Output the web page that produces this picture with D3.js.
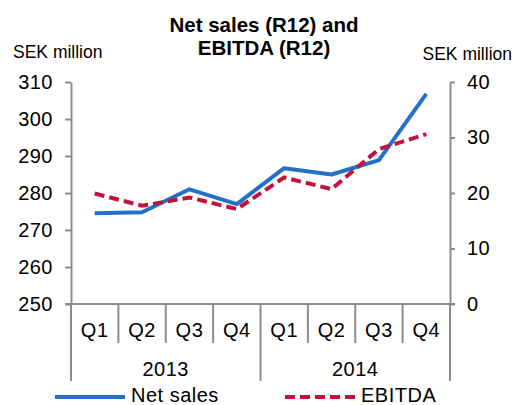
<!DOCTYPE html>
<html>
<head>
<meta charset="utf-8">
<script src="https://cdn.jsdelivr.net/npm/d3@7"></script>
<style>
  body { margin: 0; background: #fff; }
  svg text { font-family: "Liberation Sans", Arial, sans-serif; fill: #000; }
  .lbl { font-size: 20px; letter-spacing: 0.5px; }
</style>
</head>
<body>
<div id="chart"></div>
<script>
var years = ["2013", "2014"];
var quarters = ["Q1", "Q2", "Q3", "Q4"];
var netSales = [274.5, 274.8, 281.0, 277.0, 286.7, 285.0, 288.9, 306.8];
var ebitda = [19.9, 17.7, 19.2, 17.1, 22.8, 20.7, 27.9, 30.6];
var leftTicks = [250, 260, 270, 280, 290, 300, 310];
var rightTicks = [0, 10, 20, 30, 40];

var width = 515,
    height = 405,
    margin = {top: 82, right: 65, bottom: 101, left: 71},
    axisColor = "#8c8c8c";

var innerW = width - margin.left - margin.right,
    innerH = height - margin.top - margin.bottom;

// one key per period, labels repeat so keep them unique
var periods = [];
years.forEach(y => quarters.forEach(q => periods.push({year: y, q: q, key: y + " " + q})));

var svg = d3.select("#chart").append("svg")
    .attr("width", width)
    .attr("height", height);

var g = svg.append("g")
    .attr("transform", `translate(${margin.left},${margin.top})`);

var x = d3.scaleBand().domain(periods.map(d => d.key)).range([0, innerW]);
var yLeft = d3.scaleLinear().domain([250, 310]).range([innerH, 0]);
var yRight = d3.scaleLinear().domain([0, 40]).range([innerH, 0]);

// title
svg.append("text")
    .attr("x", 264).attr("y", 32)
    .attr("text-anchor", "middle")
    .style("font-size", "20.5px").style("font-weight", "bold")
    .text("Net sales (R12) and");
svg.append("text")
    .attr("x", 264).attr("y", 55)
    .attr("text-anchor", "middle")
    .style("font-size", "20.5px").style("font-weight", "bold")
    .text("EBITDA (R12)");

// unit labels
svg.append("text")
    .attr("x", 13).attr("y", 58)
    .style("font-size", "17.5px")
    .text("SEK million");
svg.append("text")
    .attr("x", 512).attr("y", 60)
    .attr("text-anchor", "end")
    .style("font-size", "17.5px")
    .text("SEK million");

// left axis
var leftAxis = g.append("g")
    .call(d3.axisLeft(yLeft).tickValues(leftTicks).tickSize(6).tickSizeOuter(0).tickPadding(12));

// right axis
var rightAxis = g.append("g")
    .attr("transform", `translate(${innerW},0)`)
    .call(d3.axisRight(yRight).tickValues(rightTicks).tickSize(5).tickSizeOuter(0).tickPadding(12));

[leftAxis, rightAxis].forEach(a => {
    a.select(".domain").attr("stroke", axisColor).attr("stroke-width", 2);
    a.selectAll(".tick line").attr("stroke", axisColor).attr("stroke-width", 2);
    a.selectAll(".tick text").attr("class", "lbl").attr("fill", "#000").attr("font-size", null);
});

// x axis line
g.append("line")
    .attr("x1", -6).attr("x2", innerW + 5)
    .attr("y1", innerH).attr("y2", innerH)
    .attr("stroke", axisColor).attr("stroke-width", 2);

// quarter separators
var bw = x.bandwidth();
g.selectAll(".qsep")
    .data(periods.filter((d, i) => i % 4 !== 0))
    .enter().append("line")
    .attr("class", "qsep")
    .attr("x1", d => x(d.key)).attr("x2", d => x(d.key))
    .attr("y1", innerH).attr("y2", innerH + 39)
    .attr("stroke", axisColor).attr("stroke-width", 2);

// year separators
var yearEdges = years.map(y => x(y + " Q1")).concat([innerW]);
g.selectAll(".ysep")
    .data(yearEdges)
    .enter().append("line")
    .attr("class", "ysep")
    .attr("x1", d => d).attr("x2", d => d)
    .attr("y1", innerH).attr("y2", innerH + 77)
    .attr("stroke", axisColor).attr("stroke-width", 2);

// quarter labels
g.selectAll(".qlab")
    .data(periods)
    .enter().append("text")
    .attr("class", "lbl")
    .attr("x", d => x(d.key) + bw / 2)
    .attr("y", innerH + 33)
    .attr("text-anchor", "middle")
    .text(d => d.q);

// year labels
g.selectAll(".ylab")
    .data(years)
    .enter().append("text")
    .attr("class", "lbl")
    .attr("x", d => x(d + " Q1") + bw * 2)
    .attr("y", innerH + 72)
    .attr("text-anchor", "middle")
    .text(d => d);

// lines
var salesLine = d3.line()
    .x((d, i) => x(periods[i].key) + bw / 2)
    .y(d => yLeft(d));
var ebitdaLine = d3.line()
    .x((d, i) => x(periods[i].key) + bw / 2)
    .y(d => yRight(d));

g.append("path")
    .datum(netSales)
    .attr("d", salesLine)
    .attr("fill", "none")
    .attr("stroke", "#2470c8")
    .attr("stroke-width", 4)
    .attr("stroke-linejoin", "round");

g.append("path")
    .datum(ebitda)
    .attr("d", ebitdaLine)
    .attr("fill", "none")
    .attr("stroke", "#c0143c")
    .attr("stroke-width", 4)
    .attr("stroke-dasharray", "10,5");

// legend
var legY = 397;
svg.append("line")
    .attr("x1", 55).attr("x2", 125).attr("y1", legY).attr("y2", legY)
    .attr("stroke", "#2470c8").attr("stroke-width", 4);
svg.append("text")
    .attr("class", "lbl")
    .attr("x", 131).attr("y", 402)
    .text("Net sales");
svg.append("line")
    .attr("x1", 285).attr("x2", 356).attr("y1", legY).attr("y2", legY)
    .attr("stroke", "#c0143c").attr("stroke-width", 4)
    .attr("stroke-dasharray", "10,5");
svg.append("text")
    .attr("class", "lbl")
    .attr("x", 361).attr("y", 402)
    .text("EBITDA");
</script>
</body>
</html>
